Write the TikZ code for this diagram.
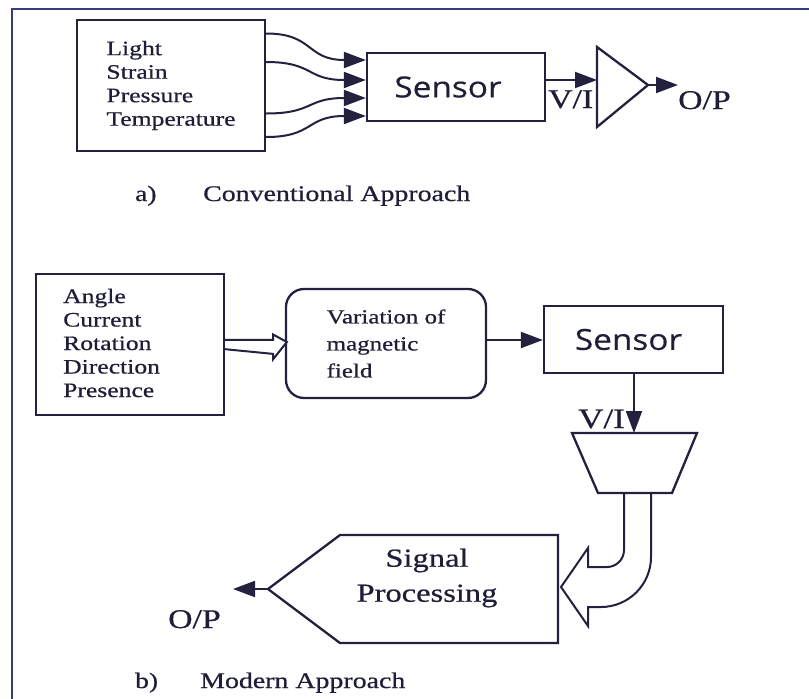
\documentclass[tikz,border=0pt]{standalone}
\usepackage{fontspec}
\setmainfont{Liberation Serif}[FakeStretch=1.25,FakeBold=0.6]
\newfontfamily\sensorfont{Open Sans}[FakeStretch=1.15,FakeBold=0.4]
\usetikzlibrary{arrows.meta,calc}
\definecolor{lc}{HTML}{22223F}
\definecolor{fc}{HTML}{34407C}
\definecolor{tc}{HTML}{1E1E38}
\begin{document}
\begin{tikzpicture}[x=1pt,y=-1pt,
  box/.style={draw=lc, line width=2.3pt, inner sep=0pt, text=tc},
  shp/.style={draw=lc, line width=2.3pt, line join=miter},
  arr/.style={draw=lc, line width=2pt, -{Triangle[length=22pt,width=16pt]}},
  txt/.style={inner sep=0pt, text=tc},
  sfont/.style={font=\sensorfont\fontsize{29}{30}\selectfont}]
\useasboundingbox (0,0) rectangle (809,699);
\fill[white] (0,0) rectangle (809,699);
% frame
\draw[fc, line width=2pt] (12,699) -- (12,9) -- (809,9);

% ---------- a) conventional
\node[box, minimum width=188pt, minimum height=131pt, align=left,
      font=\fontsize{20.5}{23.5}\selectfont] (in1) at (171,85.5)
      {Light\\Strain\\Pressure\\Temperature};
\node[box, sfont, minimum width=178pt, minimum height=68pt] (s1) at (456,87) {Sensor\hspace*{16pt}};
\draw[arr] (in1.east |- 0,33.5) .. controls (314,33.5) and (306,60) .. (s1.west |- 0,60);
\draw[arr] (in1.east |- 0,62) .. controls (314,62) and (306,80) .. (s1.west |- 0,80);
\draw[arr] (in1.east |- 0,113.5) .. controls (314,113.5) and (306,98) .. (s1.west |- 0,98);
\draw[arr] (in1.east |- 0,137) .. controls (314,137) and (306,116) .. (s1.west |- 0,116);

\coordinate (ampin) at (597,80);
\coordinate (ampout) at (648,85);
\draw[shp] (597,47) -- (597,127) -- (ampout) -- cycle;
\draw[arr] (s1.east |- ampin) -- (ampin);
\coordinate (op1end) at (678,85);
\draw[arr] (ampout) -- (op1end);
\node[txt, anchor=base west, font=\fontsize{27}{30}\selectfont] (vi1) at (548,108) {V/I};
\node[txt, anchor=base west, font=\fontsize{27}{30}\selectfont] (op1) at (678,109) {O/P};

\node[txt, anchor=base west, font=\fontsize{22}{26}\selectfont] (capa) at (135,201) {a)};
\node[txt, anchor=base west, font=\fontsize{22.3}{26}\selectfont] (capat) at (203,201) {Conventional Approach};

% ---------- b) modern
\node[box, minimum width=188pt, minimum height=141pt] (in2) at (130,344.5) {};
\node[txt, anchor=west, align=left, font=\fontsize{20.5}{23.5}\selectfont] (in2t) at (63,343)
      {Angle\\Current\\Rotation\\Direction\\Presence};
\node[box, rounded corners=18pt, minimum width=200pt, minimum height=109pt, align=left,
      font=\fontsize{20}{27}\selectfont] (var) at (386,343.5)
      {Variation of\\magnetic\\field};
% hollow arrow in2 -> var
\draw[shp, line width=2pt, fill=white]
  ($(in2.east)+(0,-4.7)$) -- ++(48,0) -- ++(0,-5.3) -- ($(var.west)+(2,-1.5)$)
  -- ($(in2.east)+(48,14.7)$) -- ++(0,-5.3) -- ($(in2.east)+(0,4.7)$);
\node[box, sfont, minimum width=179pt, minimum height=67pt] (s2) at (633.5,339.5) {Sensor\hspace*{10pt}};
\draw[arr] (var.east |- 0,340) -- (s2.west |- 0,340);

\coordinate (trapin) at (634,433);
\draw[shp] (572,433) -- (697,433) -- (672,493) -- (598,493) -- cycle;
\draw[arr] (s2.south -| trapin) -- (trapin);
\node[txt, anchor=base west, font=\fontsize{28}{30}\selectfont] (vi2) at (578,428) {V/I};

% signal processing
\coordinate (spL) at (268,589);
\draw[shp] (spL) -- (340,535) -- (558,535) -- (558,643) -- (340,643) -- cycle;
\node[txt, align=center, font=\fontsize{26}{35}\selectfont] (sp) at (427,578) {Signal\\Processing};
\coordinate (op2end) at (233,589);
\draw[arr] (spL) -- (op2end);
\node[txt, anchor=base west, font=\fontsize{27}{30}\selectfont] (op2) at (168,628) {O/P};

% curved hollow arrow trapezoid -> signal processing
\draw[shp, line width=2pt, line join=miter]
  (624,493) -- (624,550) .. controls (624,559.4) and (616.4,567) .. (607,567)
  -- (588,567) -- (588,548) -- (561,587) -- (588,626) -- (588,607) -- (601,607)
  .. controls (628.6,607) and (651,584.6) .. (651,557) -- (651,493);

\node[txt, anchor=base west, font=\fontsize{22}{26}\selectfont] (capb) at (135,688) {b)};
\node[txt, anchor=base west, font=\fontsize{22.3}{26}\selectfont] (capbt) at (200,688) {Modern Approach};
\end{tikzpicture}
\end{document}
